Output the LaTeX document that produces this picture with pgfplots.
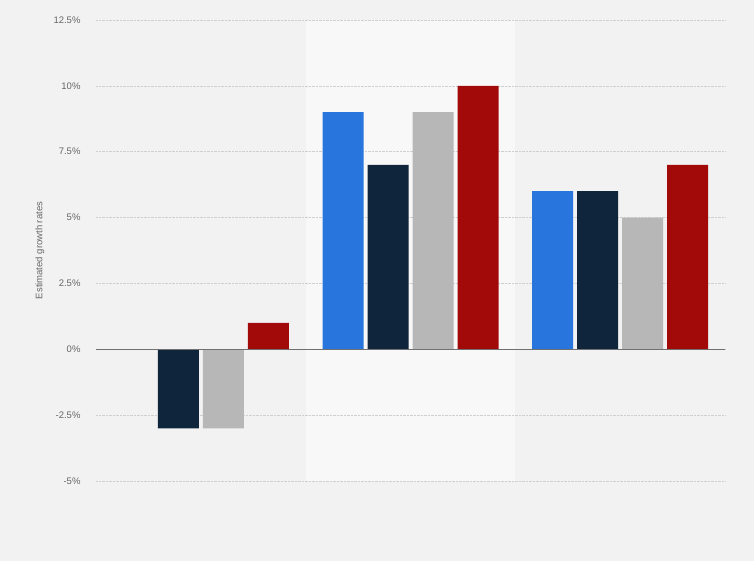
\documentclass[border=0pt]{standalone}
\usepackage{pgfplots}
\pgfplotsset{compat=1.18}
\usepackage{fontspec}
\setmainfont{Liberation Sans}

\definecolor{bgcol}{HTML}{F2F2F2}
\definecolor{bandcol}{HTML}{F8F8F8}
\definecolor{gridcol}{HTML}{CFCFCF}
\definecolor{zerocol}{HTML}{707070}
\definecolor{txtcol}{HTML}{666666}
\definecolor{sblue}{HTML}{2876DD}
\definecolor{snavy}{HTML}{0F253B}
\definecolor{sgrey}{HTML}{B7B7B7}
\definecolor{sred}{HTML}{A20909}

\begin{document}
\begin{tikzpicture}
\begin{axis}[
    set layers,
    clip=false,
    at={(96pt,79pt)}, anchor=south west,
    scale only axis,
    width=629pt, height=461pt,
    xmin=-0.5, xmax=2.5,
    ymin=-5, ymax=12.5,
    xtick=\empty,
    ytick={-5,-2.5,0,2.5,5,7.5,10,12.5},
    yticklabels={-5\%,-2.5\%,0\%,2.5\%,5\%,7.5\%,10\%,12.5\%},
    yticklabel style={font=\fontsize{9.5}{11}\selectfont, text=txtcol, xshift=-12pt},
    major tick length=0pt,
    axis line style={draw=none},
    ymajorgrids=true,
    grid style={gridcol, line width=0.7pt, dash pattern=on 0.7pt off 0.7pt},
    ylabel={Estimated growth rates},
    ylabel style={at={(axis description cs:-0.089,0.5)}, anchor=center,
        font=\fontsize{9.5}{11}\selectfont, text=txtcol},
    ybar=4pt,
    bar width=41pt,
]
\begin{pgfonlayer}{axis background}
% page background and the lighter middle band
\fill[bgcol] (axis description cs:-0.16,-0.18) rectangle (axis description cs:1.06,1.06);
\fill[bandcol] (axis cs:0.5,-5) rectangle (axis cs:1.5,12.5);
\end{pgfonlayer}

\addplot[fill=sblue, draw=none] coordinates {(1,9) (2,6)};
\addplot[fill=snavy, draw=none] coordinates {(0,-3) (1,7) (2,6)};
\addplot[fill=sgrey, draw=none] coordinates {(0,-3) (1,9) (2,5)};
\addplot[fill=sred, draw=none] coordinates {(0,1) (1,10) (2,7)};

\draw[zerocol, line width=1.2pt] (axis cs:-0.5,0) -- (axis cs:2.5,0);
\end{axis}
\pgfresetboundingbox
\useasboundingbox (0,0) rectangle (754pt,560pt);
\end{tikzpicture}
\end{document}
